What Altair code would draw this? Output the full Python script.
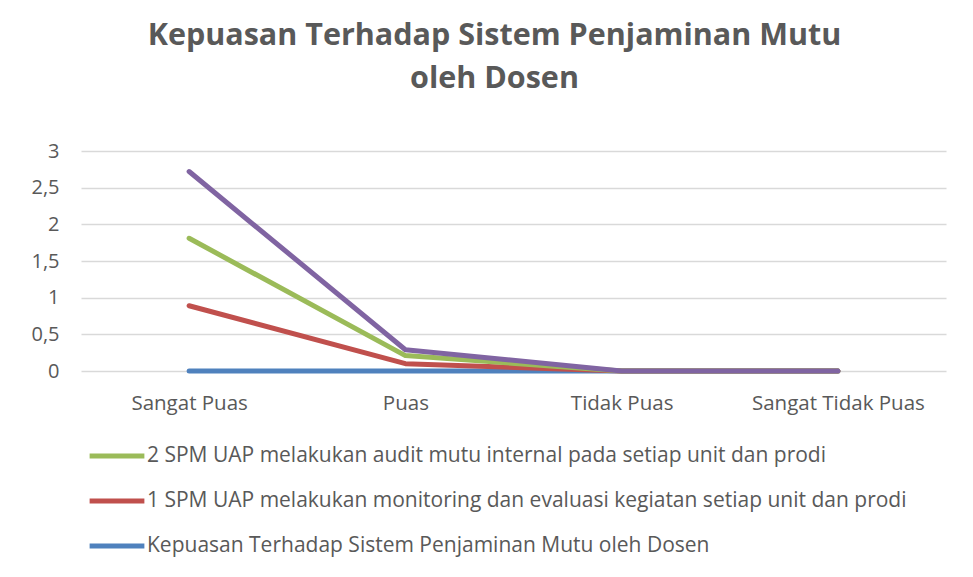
import altair as alt
import pandas as pd

categories = ["Sangat Puas", "Puas", "Tidak Puas", "Sangat Tidak Puas"]
series_names = [
    "2 SPM UAP melakukan audit mutu internal pada setiap unit dan prodi",
    "1 SPM UAP melakukan monitoring dan evaluasi kegiatan setiap unit dan prodi",
    "Kepuasan Terhadap Sistem Penjaminan Mutu oleh Dosen",
]
series_colors = ["#9BBB59", "#C0504D", "#4F81BD"]
green_vals = [1.81, 0.21, 0, 0]
red_vals = [0.89, 0.10, 0, 0]
blue_vals = [0, 0, 0, 0]
purple_name = "3"
purple_color = "#8064A2"
purple_vals = [2.72, 0.29, 0, 0]

rows = []
for name, vals in zip(series_names, [green_vals, red_vals, blue_vals]):
    for c, v in zip(categories, vals):
        rows.append({"cat": c, "series": name, "value": v})
df = pd.DataFrame(rows)
dfp = pd.DataFrame({"cat": categories, "series": purple_name, "value": purple_vals})

FONT = "Open Sans"
GRAY = "#595959"

x = alt.X("cat:N", sort=categories, title=None,
          scale=alt.Scale(paddingInner=0, paddingOuter=0.5),
          axis=alt.Axis(labelAngle=0, labelFontSize=20.5, labelColor=GRAY, labelFont=FONT,
                        ticks=False, domain=False, labelPadding=22))
y = alt.Y("value:Q", title=None,
          scale=alt.Scale(domain=[0, 3]),
          axis=alt.Axis(values=[0, 0.5, 1, 1.5, 2, 2.5, 3], labelFontSize=20, labelColor=GRAY,
                        labelFont=FONT, ticks=False, domain=False, labelPadding=22,
                        format="~g",
                        gridColor="#D9D9D9", gridWidth=1.5,
                        labelExpr="replace(datum.label, '.', ',')"))

base_lines = alt.Chart(df).mark_line(strokeWidth=5, strokeCap="round", strokeJoin="round").encode(
    x=x, y=y,
    color=alt.Color("series:N", sort=series_names,
                    scale=alt.Scale(domain=series_names, range=series_colors),
                    legend=alt.Legend(title=None, orient="none", legendX=6, legendY=275,
                                      direction="vertical", symbolType="stroke",
                                      symbolSize=3000, symbolStrokeWidth=5,
                                      labelFontSize=21, labelColor=GRAY, labelFont=FONT,
                                      labelLimit=900, rowPadding=5, labelOffset=0)),
)

blue_layer = base_lines.transform_filter(alt.datum.series == series_names[2])
red_layer = base_lines.transform_filter(alt.datum.series == series_names[1])
green_layer = base_lines.transform_filter(alt.datum.series == series_names[0])
purple_layer = alt.Chart(dfp).mark_line(strokeWidth=5, strokeCap="round", strokeJoin="round",
                                        color=purple_color).encode(x=x, y=y)

chart = alt.layer(blue_layer, red_layer, green_layer, purple_layer).properties(
    width=865, height=220,
    padding={"left": 73, "top": 143, "right": 19, "bottom": 190},
    autosize=alt.AutoSizeParams(type="none"),
    background="white",
    title=alt.TitleParams(
        text=["Kepuasan Terhadap Sistem Penjaminan Mutu", "oleh Dosen"],
        fontSize=30.5, font=FONT, fontWeight="bold", color=GRAY,
        anchor="middle", dx=-19, offset=47, lineHeight=43,
    ),
).configure_view(stroke=None)

chart.save("out.html", embed_options={"renderer": "svg", "actions": False})
